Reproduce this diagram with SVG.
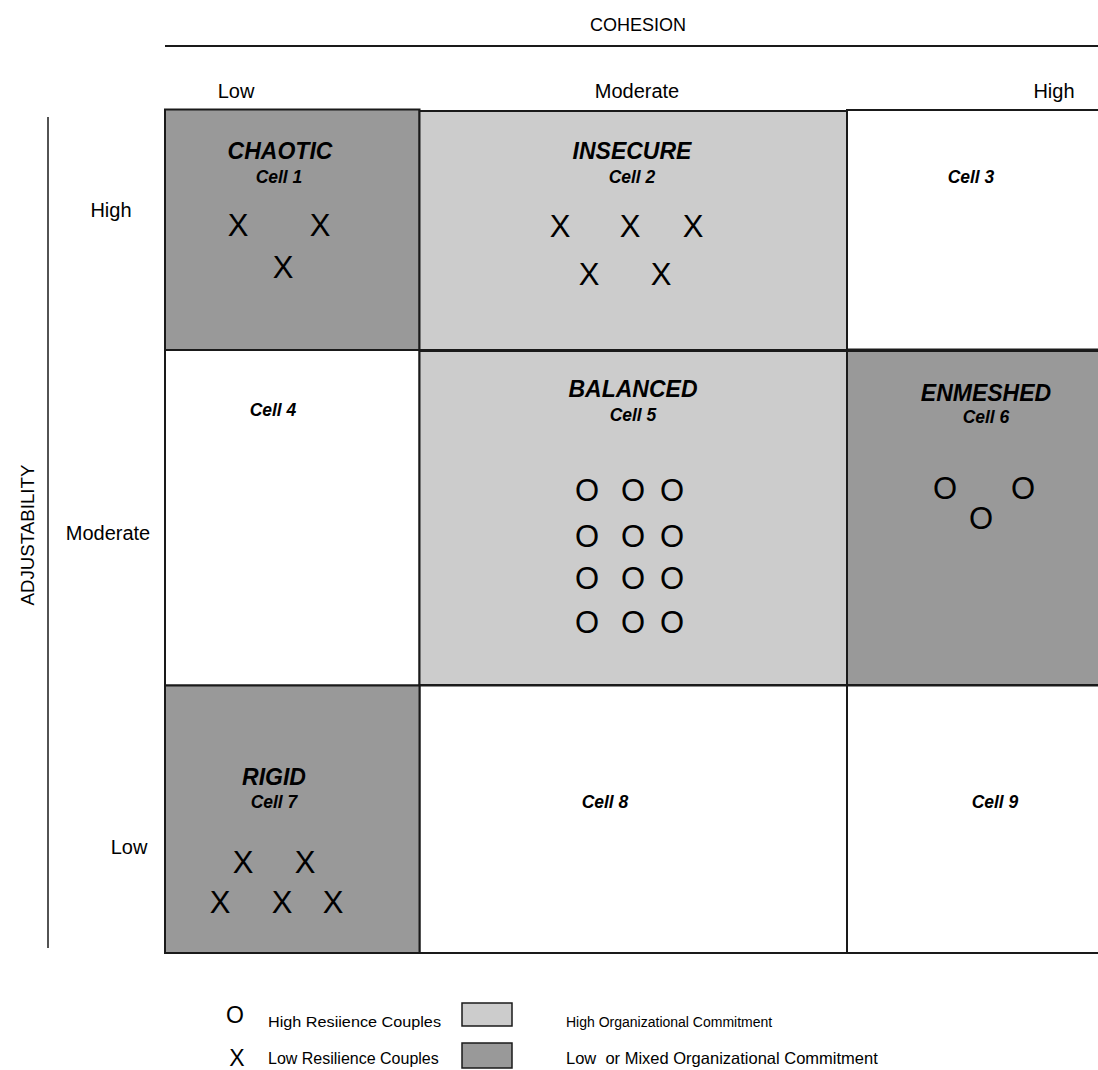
<svg xmlns="http://www.w3.org/2000/svg" width="1098" height="1070" viewBox="0 0 1098 1070">
<style>
text{font-family:"Liberation Sans",Arial,Helvetica,sans-serif;fill:#000}
.ax{font-size:20px;text-anchor:middle}
.t{font-size:23px;font-weight:bold;font-style:italic;text-anchor:middle}
.c{font-size:17.5px;font-weight:bold;font-style:italic;text-anchor:middle}
.m{font-size:31px;text-anchor:middle}
.dk{fill:#999999;stroke:#1a1a1a;stroke-width:2}
.lt{fill:#cccccc;stroke:#1a1a1a;stroke-width:2}
.wh{fill:#ffffff;stroke:#1a1a1a;stroke-width:2}
</style>
<rect width="1098" height="1070" fill="#fff"/>
<g id="axes">
<line x1="165" y1="46" x2="1098" y2="46" stroke="#1a1a1a" stroke-width="2"/>
<line x1="48" y1="117" x2="48" y2="948" stroke="#1a1a1a" stroke-width="1.5"/>
<text x="638" y="31" font-size="18" text-anchor="middle">COHESION</text>
<text class="ax" x="236" y="98">Low</text>
<text class="ax" x="637" y="98">Moderate</text>
<text class="ax" x="1054" y="98">High</text>
<text class="ax" x="111" y="217">High</text>
<text class="ax" x="108" y="540">Moderate</text>
<text class="ax" x="129" y="854">Low</text>
<text transform="translate(34,535) rotate(-90)" font-size="18.7" text-anchor="middle">ADJUSTABILITY</text>
</g>
<g id="cell3"><rect class="wh" x="847" y="110" width="260" height="239.5"/><text class="c" x="971" y="183">Cell 3</text></g>
<g id="cell4"><rect class="wh" x="165" y="350" width="254.5" height="335.5"/><text class="c" x="273" y="416">Cell 4</text></g>
<g id="cell8"><rect class="wh" x="419.5" y="685.5" width="427.5" height="267.5"/><text class="c" x="605" y="808">Cell 8</text></g>
<g id="cell9"><rect class="wh" x="847" y="685.5" width="260" height="267.5"/><text class="c" x="995" y="808">Cell 9</text></g>
<g id="cell1"><rect class="dk" x="165" y="109.5" width="254.5" height="240.5"/>
<text class="t" x="280" y="159">CHAOTIC</text><text class="c" x="279" y="183">Cell 1</text>
<text class="m" x="238" y="236">X</text><text class="m" x="320" y="236">X</text><text class="m" x="283" y="278">X</text></g>
<g id="cell2"><rect class="lt" x="419.5" y="111" width="427.5" height="239"/>
<text class="t" x="632" y="159">INSECURE</text><text class="c" x="632" y="183">Cell 2</text>
<text class="m" x="560" y="237">X</text><text class="m" x="630" y="237">X</text><text class="m" x="693" y="237">X</text>
<text class="m" x="589" y="285">X</text><text class="m" x="661" y="285">X</text></g>
<g id="cell5"><rect class="lt" x="419.5" y="351" width="427.5" height="334"/>
<text class="t" x="633" y="397">BALANCED</text><text class="c" x="633" y="421">Cell 5</text>
<text class="m" x="587" y="501">O</text><text class="m" x="633" y="501">O</text><text class="m" x="672" y="501">O</text>
<text class="m" x="587" y="547">O</text><text class="m" x="633" y="547">O</text><text class="m" x="672" y="547">O</text>
<text class="m" x="587" y="589">O</text><text class="m" x="633" y="589">O</text><text class="m" x="672" y="589">O</text>
<text class="m" x="587" y="633">O</text><text class="m" x="633" y="633">O</text><text class="m" x="672" y="633">O</text></g>
<g id="cell6"><rect class="dk" x="847" y="351" width="260" height="334"/>
<text class="t" x="986" y="401">ENMESHED</text><text class="c" x="986" y="423">Cell 6</text>
<text class="m" x="945" y="499">O</text><text class="m" x="1023" y="499">O</text><text class="m" x="981" y="529">O</text></g>
<g id="cell7"><rect class="dk" x="165" y="685.5" width="254.5" height="267.5"/>
<text class="t" x="274" y="785">RIGID</text><text class="c" x="274" y="808">Cell 7</text>
<text class="m" x="243" y="873">X</text><text class="m" x="305" y="873">X</text>
<text class="m" x="220" y="913">X</text><text class="m" x="282" y="913">X</text><text class="m" x="333" y="913">X</text></g>
<g id="legend">
<text x="235" y="1023" font-size="23" text-anchor="middle">O</text>
<text x="268" y="1027" font-size="14" textLength="173" lengthAdjust="spacingAndGlyphs">High Resiience Couples</text>
<rect x="462" y="1003" width="50" height="23" fill="#cccccc" stroke="#1a1a1a" stroke-width="1.5"/>
<text x="566" y="1027" font-size="14">High Organizational Commitment</text>
<text x="237" y="1066" font-size="23" text-anchor="middle">X</text>
<text x="268" y="1064" font-size="16">Low Resilience Couples</text>
<rect x="462" y="1043" width="50" height="25" fill="#999999" stroke="#1a1a1a" stroke-width="1.5"/>
<text x="566" y="1064" font-size="16.5" xml:space="preserve">Low  or Mixed Organizational Commitment</text>
</g>
</svg>
